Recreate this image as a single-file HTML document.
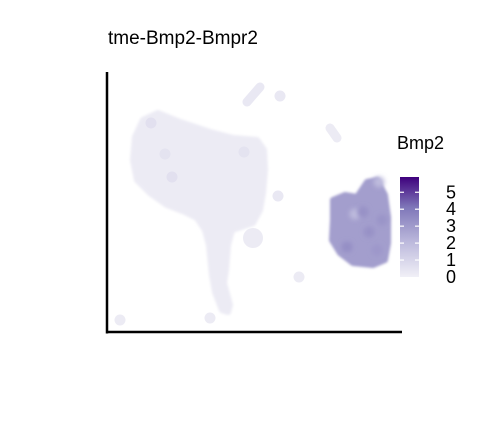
<!DOCTYPE html>
<html><head><meta charset="utf-8"><style>
html,body{margin:0;padding:0;background:#fff;}
svg{display:block;font-family:"Liberation Sans",Arial,sans-serif;}
</style></head><body>
<svg id="chart" width="488" height="440" viewBox="0 0 488 440">
<defs>
<filter id="soft" x="-20%" y="-20%" width="140%" height="140%"><feGaussianBlur stdDeviation="1.2"/></filter>
<filter id="soft2" x="-50%" y="-50%" width="200%" height="200%"><feGaussianBlur stdDeviation="2.5"/></filter>
<linearGradient id="cbar" x1="0" y1="1" x2="0" y2="0">
<stop offset="0" stop-color="#f1f0f7"/><stop offset="0.35" stop-color="#bcb9dc"/><stop offset="0.7" stop-color="#7e76b8"/><stop offset="1" stop-color="#3f007d"/>
</linearGradient>
</defs>
<text x="108" y="44" font-size="19" fill="#000">tme-Bmp2-Bmpr2</text>
<g id="marks"></g>
<line x1="107" y1="72" x2="107" y2="333.5" stroke="#000" stroke-width="2.5"/>
<line x1="106" y1="332" x2="402" y2="332" stroke="#000" stroke-width="2.5"/>
<text x="397" y="149" font-size="18" fill="#000">Bmp2</text>
<rect x="400" y="177" width="19" height="100" fill="url(#cbar)"/>
<g id="legend"></g>
</svg>
<script>
// UMAP coords in data units (x: 0..295, y: 0..260), expression values
const mainBlob = [[36,212],[51,219],[73,210],[103,200],[126,194],[150,192],[157,182],[158,162],[156,139],[153,122],[146,109],[125,102],[121,87],[119,62],[117,49],[123,27],[121,20],[115,22],[108,40],[105,57],[102,87],[98,102],[90,114],[78,120],[60,127],[43,139],[30,152],[26,172],[28,195]];
const mainExpr = 0.2;
const rightBlob = [[226,132],[238,137],[250,135],[260,150],[270,152],[278,137],[281,115],[281,89],[278,72],[266,67],[246,69],[233,79],[225,92],[226,112]];
const rightExpr = 2.9;
const cells = [[146,94,0.2],[173,236,0.3],[171,136,0.3],[192,55,0.2],[13,12,0.2],[103,14,0.2],[44,209,0.6],[65,155,0.6],[58,178,0.5],[137,180,0.5],[248,118,2.0],[262,100,3.3],[240,85,3.4],[270,82,3.1],[256,120,3.3],[272,150,2.0],[275,112,3.2]];
const streaks = [[140,230,153,245,0.3],[223,204,230,194,0.2]];
const legendTicks = [0,1,2,3,4,5];
const legendMax = 5.9;

const ns="http://www.w3.org/2000/svg";
const xS=v=>107+v, yS=v=>332-v;
const stops=[[0,[241,240,247]],[0.35,[188,185,220]],[0.7,[126,118,184]],[1,[63,0,125]]];
function col(e){let t=Math.max(0,Math.min(1,e/legendMax));for(let i=1;i<stops.length;i++){if(t<=stops[i][0]){const a=stops[i-1],b=stops[i];const f=(t-a[0])/(b[0]-a[0]);const c=a[1].map((x,j)=>Math.round(x+(b[1][j]-x)*f));return `rgb(${c})`;}}return 'rgb(63,0,125)';}
const g=document.getElementById('marks');
function poly(pts,e,name){const p=document.createElementNS(ns,'polygon');
p.setAttribute('points',pts.map(d=>xS(d[0])+','+yS(d[1])).join(' '));
p.setAttribute('fill',col(e));p.setAttribute('stroke',col(e));p.setAttribute('stroke-width','6');p.setAttribute('stroke-linejoin','round');p.setAttribute('filter','url(#soft)');


g.appendChild(p);}
poly(mainBlob,mainExpr,'cluster-main');
poly(rightBlob,rightExpr,'cluster-bmp2-high');
streaks.forEach(s=>{const l=document.createElementNS(ns,'line');
l.setAttribute('x1',xS(s[0]));l.setAttribute('y1',yS(s[1]));l.setAttribute('x2',xS(s[2]));l.setAttribute('y2',yS(s[3]));
l.setAttribute('stroke',col(s[4]));l.setAttribute('stroke-width','9');l.setAttribute('stroke-linecap','round');


g.appendChild(l);});
cells.forEach(c=>{const ci=document.createElementNS(ns,'circle');
ci.setAttribute('cx',xS(c[0]));ci.setAttribute('cy',yS(c[1]));ci.setAttribute('r',c[0]===146?10:5.5);
ci.setAttribute('fill',col(c[2]));
if(c[2]>1)ci.setAttribute('filter','url(#soft2)');


g.appendChild(ci);});
const lg=document.getElementById('legend');
legendTicks.forEach(t=>{const y=277-t/legendMax*100;
if(t>0){[[400,404],[415,419]].forEach(xx=>{const l=document.createElementNS(ns,'line');
l.setAttribute('x1',xx[0]);l.setAttribute('x2',xx[1]);l.setAttribute('y1',y);l.setAttribute('y2',y);l.setAttribute('stroke','#fff');l.setAttribute('stroke-width','1.2');


lg.appendChild(l);});}
const tx=document.createElementNS(ns,'text');tx.setAttribute('x',446);tx.setAttribute('y',y+6);tx.setAttribute('font-size','18');tx.textContent=t;


lg.appendChild(tx);});
</script>
</body></html>
